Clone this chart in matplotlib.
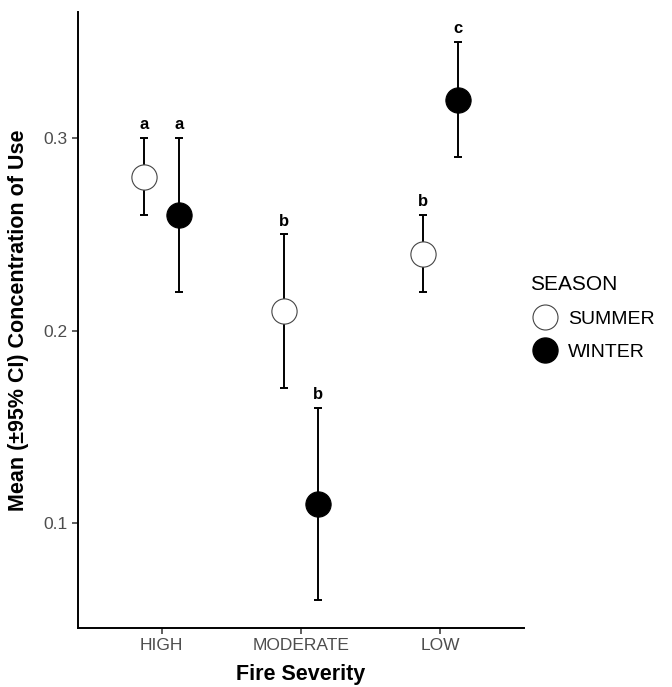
import matplotlib
matplotlib.use("Agg")
import matplotlib.pyplot as plt
from matplotlib.lines import Line2D
import numpy as np

plt.rcParams['font.family'] = ['Liberation Sans', 'DejaVu Sans']

severity = ['HIGH', 'MODERATE', 'LOW']
seasons = ['SUMMER', 'WINTER']
summer_mean = [0.28, 0.21, 0.24]
summer_lo = [0.26, 0.17, 0.22]
summer_hi = [0.30, 0.25, 0.26]
winter_mean = [0.26, 0.11, 0.32]
winter_lo = [0.22, 0.06, 0.29]
winter_hi = [0.30, 0.16, 0.35]
summer_letters = ['a', 'b', 'b']
winter_letters = ['a', 'b', 'c']

fig = plt.figure(figsize=(6.72, 6.87), dpi=100)
ax = fig.add_axes([0.116, 0.086, 0.664, 0.8965])

x = np.arange(1, len(severity) + 1)
dodge = 0.125

series = [
    (summer_mean, summer_lo, summer_hi, summer_letters, -dodge, 'white'),
    (winter_mean, winter_lo, winter_hi, winter_letters, dodge, 'black'),
]
for mean, lo, hi, letters, off, fc in series:
    mean = np.array(mean)
    lo = np.array(lo)
    hi = np.array(hi)
    xs = x + off
    ax.errorbar(xs, mean, yerr=[mean - lo, hi - mean], fmt='none',
                ecolor='black', elinewidth=1.4, capsize=3.2, capthick=1.4, zorder=2)
    ax.scatter(xs, mean, s=330, facecolor=fc, edgecolor='black' if fc == 'black' else '#444444',
               linewidth=0.8, zorder=3)
    for xi, yi, t in zip(xs, hi, letters):
        ax.text(xi, yi + 0.003, t, ha='center', va='bottom', fontsize=12,
                fontweight='bold', color='black')

ax.set_xlim(0.4, 3.6)
ax.set_ylim(0.0455, 0.3655)
ax.set_xticks(x)
ax.set_xticklabels(severity)
ax.set_yticks([0.1, 0.2, 0.3])
ax.set_yticklabels(['0.1', '0.2', '0.3'])
ax.tick_params(axis='both', colors='#333333', labelcolor='#4d4d4d', labelsize=12.5,
               length=4, width=1.1)
for s in ['top', 'right']:
    ax.spines[s].set_visible(False)
for s in ['left', 'bottom']:
    ax.spines[s].set_linewidth(1.4)
    ax.spines[s].set_color('black')

ax.set_xlabel('Fire Severity', fontsize=15.5, fontweight='bold', labelpad=8)
ax.set_ylabel('Mean (\u00b195% CI) Concentration of Use', fontsize=15.5,
              fontweight='bold', labelpad=10)

handles = [
    Line2D([], [], marker='o', linestyle='none', markersize=18,
           markerfacecolor='white', markeredgecolor='#444444', markeredgewidth=0.8),
    Line2D([], [], marker='o', linestyle='none', markersize=18,
           markerfacecolor='black', markeredgecolor='black'),
]
leg = fig.legend(handles, seasons, title='SEASON', loc='center left',
                 bbox_to_anchor=(0.7895, 0.537), frameon=False, fontsize=14,
                 title_fontsize=15, handletextpad=0.44, labelspacing=0.8,
                 alignment='left', handlelength=1.5, borderpad=0, borderaxespad=0)

fig.savefig('out.png', dpi=100)
